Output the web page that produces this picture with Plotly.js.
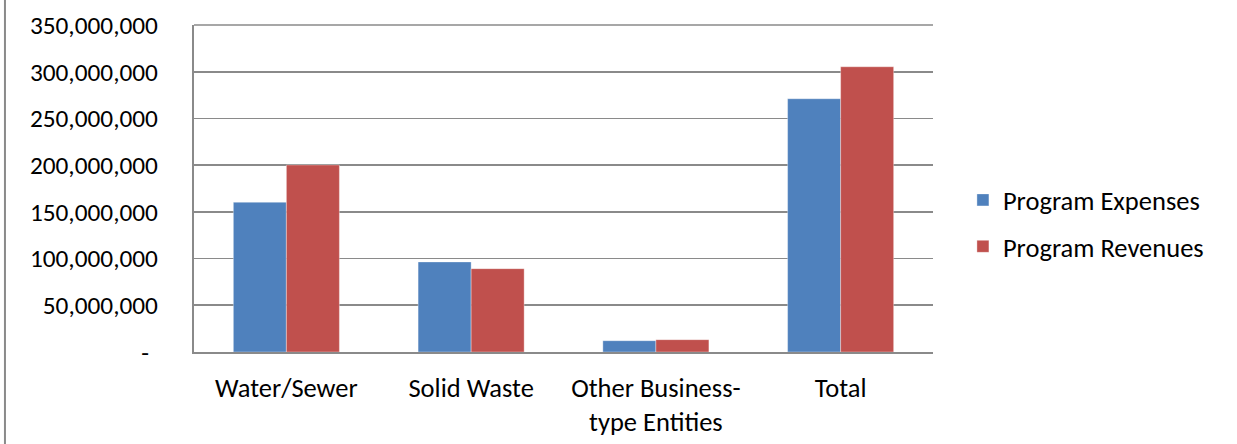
<!DOCTYPE html>
<html>
<head>
<meta charset="utf-8">
<script src="https://cdn.plot.ly/plotly-3.0.1.min.js"></script>
<style>html,body{margin:0;padding:0;background:#fff;}#chart{width:1237px;height:444px;}</style>
</head>
<body>
<div id="chart"></div>
<script>
const categories = ["Water/Sewer", "Solid Waste", "Other Business-<br>type Entities", "Total"];
const programExpenses = [160300000, 96400000, 12100000, 271100000];
const programRevenues = [200200000, 89200000, 13200000, 305300000];
const tickValues = [0, 50000000, 100000000, 150000000, 200000000, 250000000, 300000000, 350000000];
const tickLabels = ["-\u00a0\u200a", "50,000,000", "100,000,000", "150,000,000", "200,000,000", "250,000,000", "300,000,000", "350,000,000"];

const FONT = "Calibri, Carlito, 'Open Sans', sans-serif";
const GRID = "#8a8a8a";

const traces = [
  {type: "bar", name: "Program Expenses", x: categories, y: programExpenses,
   marker: {color: "#4F81BD", line: {color: "rgba(255,255,255,0.35)", width: 1}}, legendgroup: "a"},
  {type: "bar", name: "Program Revenues", x: categories, y: programRevenues,
   marker: {color: "#C0504D", line: {color: "rgba(255,255,255,0.35)", width: 1}}, legendgroup: "b"}
];

const layout = {
  width: 1237, height: 444,
  margin: {l: 194, r: 304, t: 25, b: 92, pad: 0},
  paper_bgcolor: "#ffffff", plot_bgcolor: "#ffffff",
  font: {family: FONT, size: 26.5, color: "#000000"},
  barmode: "group", bargap: 0.426, bargroupgap: 0,
  showlegend: true,
  legend: {x: 1.0405, y: 0.394, xanchor: "left", yanchor: "middle",
           font: {family: FONT, size: 26.5, color: "#000"},
           traceorder: "grouped", tracegroupgap: 9, itemclick: false, bgcolor: "rgba(0,0,0,0)"},
  xaxis: {type: "category", showline: true, linecolor: GRID, linewidth: 2, showgrid: false,
          ticks: "", tickfont: {family: FONT, size: 26.5}, ticklabelstandoff: 11, fixedrange: true},
  yaxis: {range: [0, 350000000], tickmode: "array", tickvals: tickValues, ticktext: tickLabels,
          showline: true, linecolor: GRID, linewidth: 2, showgrid: true, gridcolor: GRID, gridwidth: 1.6,
          zeroline: false, ticks: "", ticklabelstandoff: 29, tickfont: {family: FONT, size: 25.3}, fixedrange: true},
  shapes: [
    {type: "line", xref: "paper", yref: "paper", x0: 0, x1: 1, y0: 1, y1: 1,
     line: {color: GRID, width: 1.6}},
    {type: "line", xref: "paper", yref: "paper", x0: -0.2558, x1: -0.2558, y0: -0.3, y1: 1.1,
     line: {color: GRID, width: 2}}
  ]
};

Plotly.newPlot("chart", traces, layout, {displayModeBar: false, staticPlot: true});
</script>
</body>
</html>
